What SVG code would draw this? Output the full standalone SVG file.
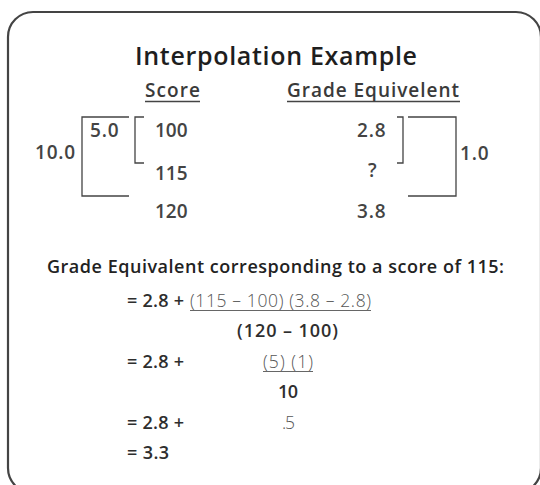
<svg xmlns="http://www.w3.org/2000/svg" width="540" height="485" viewBox="0 0 540 485">
<style>
.t{font-family:"Open Sans","Liberation Sans",sans-serif;fill:#3c3c3c}
.title{font-size:25px;font-weight:600;fill:#1e1e1e}
.hd{font-size:19px;font-weight:600;fill:#3a3a3a}
.num{font-size:19px;font-weight:600;fill:#444}
.dec{letter-spacing:0.8px}
.h2{font-size:18px;font-weight:600;fill:#222}
.b{font-size:18px;font-weight:600;fill:#2e2e2e}
.l{font-size:17.5px;font-weight:300;fill:#555}
.ln{fill:none;stroke:#444;stroke-width:1.3}
.ul{stroke:#444;stroke-width:1.4}
.ul2{stroke:#666;stroke-width:1}
</style>
<rect x="8" y="12" width="533" height="481" rx="25" ry="25" fill="#fff" stroke="#444" stroke-width="2.2"/>
<g id="title"><text class="t title" x="135" y="65" textLength="282" lengthAdjust="spacing">Interpolation Example</text></g>
<g id="score-header"><text class="t hd" x="145" y="97" textLength="55" lengthAdjust="spacing">Score</text><line class="ul" x1="145" y1="101.5" x2="200" y2="101.5"/></g>
<g id="grade-header"><text class="t hd" x="287" y="97" textLength="172" lengthAdjust="spacing">Grade Equivelent</text><line class="ul" x1="287" y1="101.5" x2="460" y2="101.5"/></g>
<g id="score-values">
<text class="t num" x="155" y="137">100</text>
<text class="t num" x="155" y="180">115</text>
<text class="t num" x="155" y="218">120</text>
</g>
<g id="score-diffs">
<text class="t num dec" x="35" y="159">10.0</text>
<text class="t num dec" x="90" y="137">5.0</text>
</g>
<g id="grade-values">
<text class="t num dec" x="357" y="137">2.8</text>
<text class="t num" x="368" y="177">?</text>
<text class="t num dec" x="357" y="218">3.8</text>
<text class="t num dec" x="460" y="160">1.0</text>
</g>
<g id="connectors">
<path class="ln" d="M129,117 H82 V196 H129"/>
<path class="ln" d="M144,117 H135 V163 H144"/>
<path class="ln" d="M397,117 H403 V163 H397"/>
<path class="ln" d="M408,117 H456 V196 H408"/>
</g>
<g id="calc">
<text class="t h2" x="47" y="273" textLength="457" lengthAdjust="spacing">Grade Equivalent corresponding to a score of 115:</text>
<text class="t b" x="127" y="307" textLength="57" lengthAdjust="spacing">= 2.8 +</text>
<text class="t l" x="190" y="307" textLength="181" lengthAdjust="spacing">(115 – 100) (3.8 – 2.8)</text>
<line class="ul2" x1="190" y1="310.5" x2="371" y2="310.5"/>
<text class="t b" x="237" y="337" textLength="101" lengthAdjust="spacing">(120 – 100)</text>
<text class="t b" x="127" y="368" textLength="57" lengthAdjust="spacing">= 2.8 +</text>
<text class="t l" x="263" y="368" textLength="50" lengthAdjust="spacing">(5) (1)</text>
<line class="ul2" x1="263" y1="371.5" x2="313" y2="371.5"/>
<text class="t b" x="278" y="398" textLength="20" lengthAdjust="spacing">10</text>
<text class="t b" x="127" y="429" textLength="57" lengthAdjust="spacing">= 2.8 +</text>
<text class="t l" x="282" y="429" textLength="13" lengthAdjust="spacing">.5</text>
<text class="t b" x="127" y="459" textLength="42" lengthAdjust="spacing">= 3.3</text>
</g>
</svg>
